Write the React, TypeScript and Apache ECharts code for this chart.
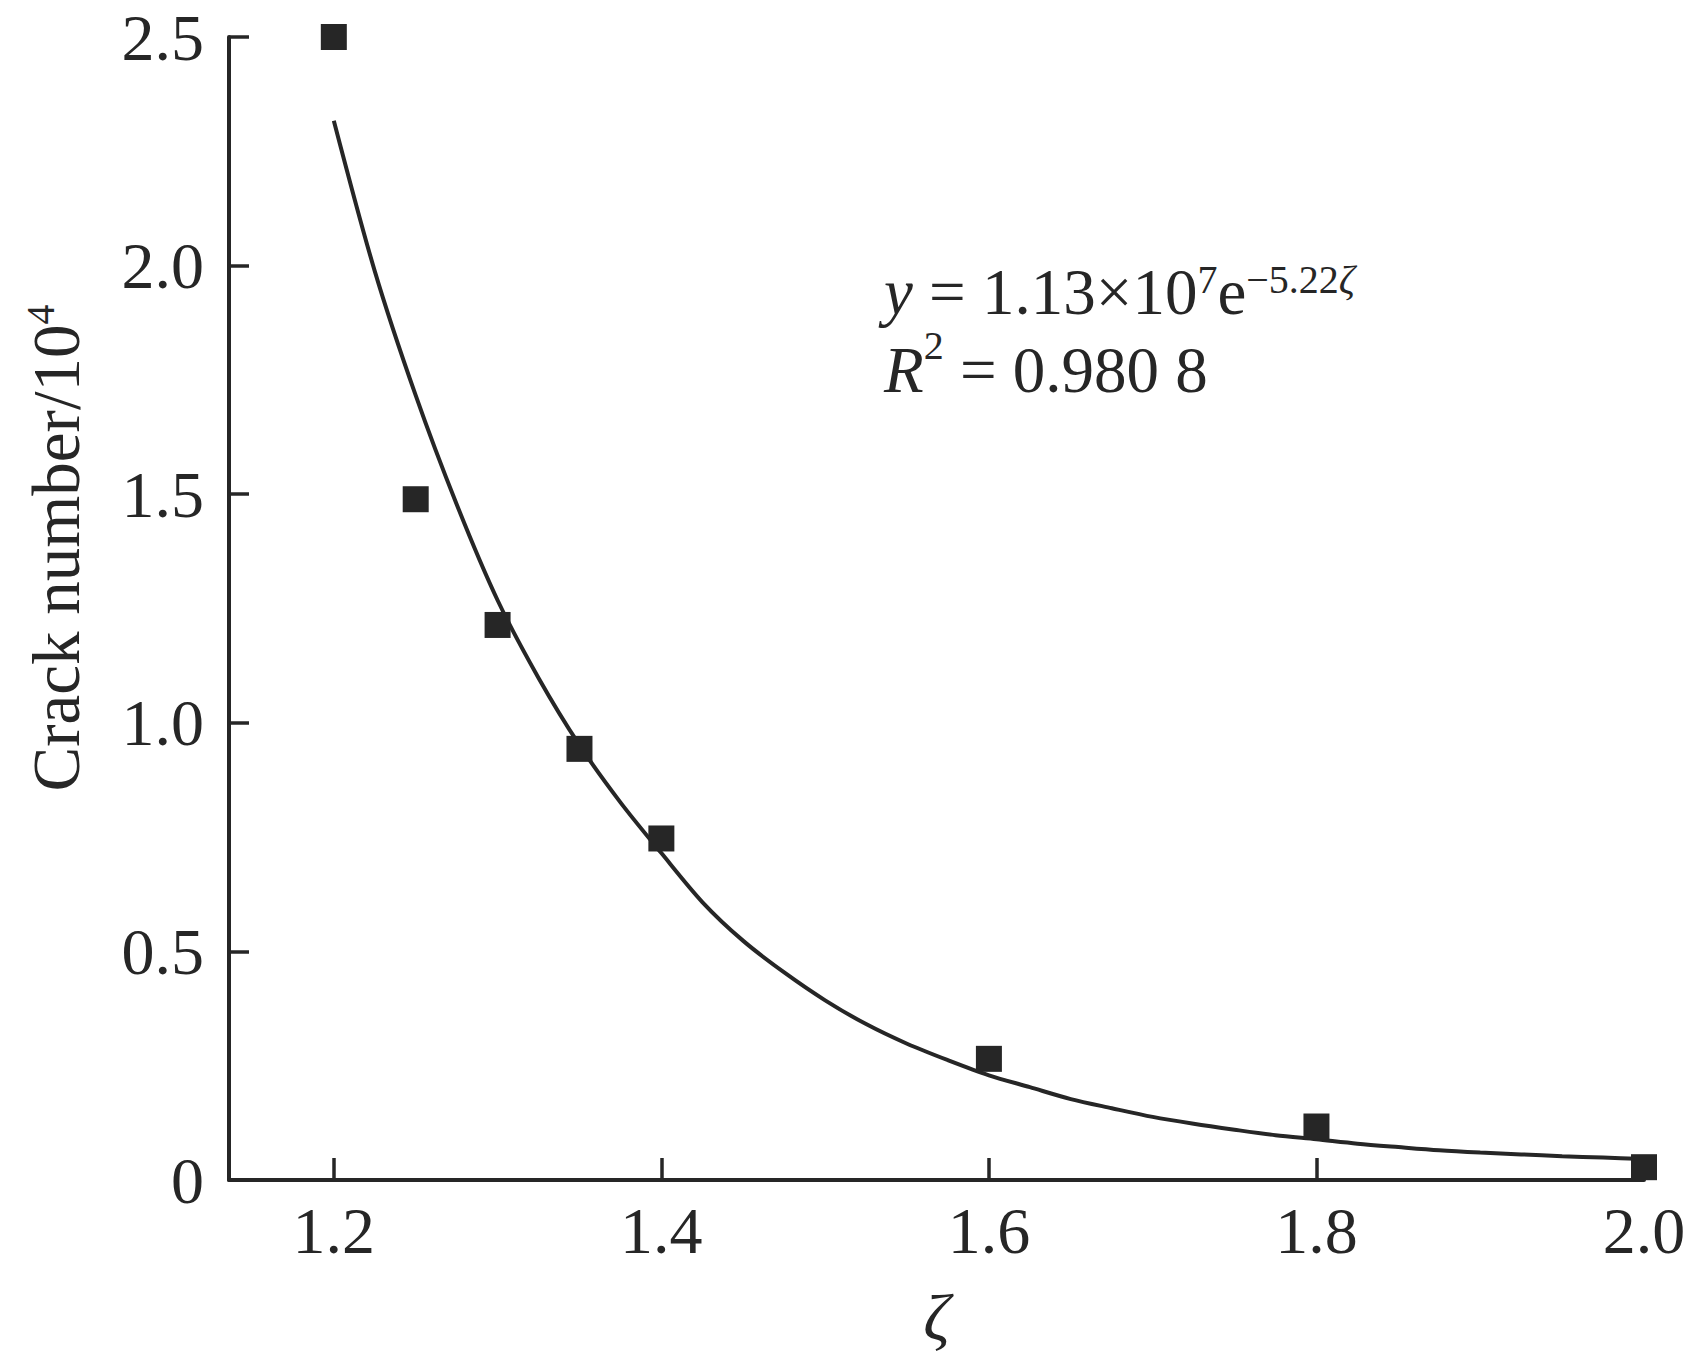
import React, { useEffect, useRef } from "react";
import * as echarts from "echarts";

// Measured data points (ζ, crack number / 10^4)
const zeta = [1.2, 1.25, 1.3, 1.35, 1.4, 1.6, 1.8, 2.0];
const crack = [2.5, 1.489, 1.214, 0.943, 0.747, 0.265, 0.117, 0.028];

// Fitted curve at regular ζ steps
const fitZeta = [1.2, 1.225, 1.25, 1.275, 1.3, 1.325, 1.35, 1.375, 1.4, 1.425, 1.45, 1.475, 1.5, 1.525, 1.55, 1.575, 1.6, 1.625, 1.65, 1.675, 1.7, 1.725, 1.75, 1.775, 1.8, 1.825, 1.85, 1.875, 1.9, 1.925, 1.95, 1.975, 2.0];
const fitCrack = [2.317, 1.988, 1.716, 1.478, 1.268, 1.098, 0.951, 0.826, 0.715, 0.608, 0.523, 0.454, 0.393, 0.341, 0.298, 0.262, 0.229, 0.203, 0.177, 0.157, 0.138, 0.123, 0.11, 0.098, 0.089, 0.0795, 0.072, 0.065, 0.06, 0.056, 0.052, 0.049, 0.046];

const xTicks = [1.2, 1.4, 1.6, 1.8, 2.0];
const yTicks = [0, 0.5, 1.0, 1.5, 2.0, 2.5];

const INK = "#262626";
const FONT = "'Liberation Serif', 'Times New Roman', serif";

export default function App() {
  const ref = useRef<HTMLDivElement>(null);
  useEffect(() => {
    if (!ref.current) return;
    const chart = echarts.init(ref.current, null, { renderer: "svg" });
    chart.setOption({
      animation: false,
      backgroundColor: "#ffffff",
      textStyle: { fontFamily: FONT },
      grid: { left: 229, right: 43, top: 37, bottom: 185, outerBoundsMode: "none", containLabel: false },
      xAxis: {
        type: "value",
        min: 1.136,
        max: 2.0,
        name: "ζ",
        nameLocation: "middle",
        nameGap: 104,
        nameTextStyle: { fontFamily: FONT, fontSize: 66, fontStyle: "italic", color: INK },
        axisLine: { onZero: false, lineStyle: { color: INK, width: 4 } },
        axisTick: { inside: true, length: 22, customValues: xTicks, lineStyle: { color: INK, width: 3.5 } },
        axisLabel: {
          customValues: xTicks,
          margin: 17,
          fontFamily: FONT,
          fontSize: 66,
          color: INK,
          formatter: (v: number) => v.toFixed(1),
        },
        splitLine: { show: false },
      },
      yAxis: {
        type: "value",
        min: 0,
        max: 2.5,
        interval: 0.5,
        axisLine: { show: true, onZero: false, lineStyle: { color: INK, width: 4 } },
        axisTick: { show: true, inside: true, length: 20, customValues: yTicks, lineStyle: { color: INK, width: 3.5 } },
        axisLabel: {
          customValues: yTicks,
          margin: 25,
          fontFamily: FONT,
          fontSize: 66,
          color: INK,
          formatter: (v: number) => (v === 0 ? "0" : v.toFixed(1)),
        },
        splitLine: { show: false },
      },
      series: [
        {
          type: "line",
          data: fitZeta.map((x, i) => [x, fitCrack[i]]),
          showSymbol: false,
          smooth: 0.3,
          lineStyle: { color: INK, width: 4 },
          z: 2,
        },
        {
          type: "scatter",
          data: zeta.map((x, i) => [x, crack[i]]),
          symbol: "rect",
          symbolSize: 26,
          itemStyle: { color: INK, opacity: 1 },
          z: 3,
        },
      ],
      graphic: [
        {
          type: "text",
          x: 56,
          y: 548,
          rotation: Math.PI / 2,
          style: {
            text: "{m|Crack number/10}{s|4}",
            align: "center",
            verticalAlign: "middle",
            fill: INK,
            fontFamily: FONT,
            rich: {
              m: { fontFamily: FONT, fontSize: 67, lineHeight: 72, fill: INK },
              s: { fontFamily: FONT, fontSize: 40, lineHeight: 42, verticalAlign: "top", fill: INK },
            },
          },
        },
        {
          type: "text",
          x: 884,
          y: 292,
          style: {
            text: "{i|y}{m| = 1.13×10}{s|7}{m|e}{s|−5.22}{si|ζ}",
            align: "left",
            verticalAlign: "middle",
            fill: INK,
            fontFamily: FONT,
            rich: {
              i: { fontFamily: FONT, fontSize: 65, fontStyle: "italic", lineHeight: 66, fill: INK },
              m: { fontFamily: FONT, fontSize: 65, lineHeight: 66, fill: INK },
              s: { fontFamily: FONT, fontSize: 40, lineHeight: 36, verticalAlign: "top", fill: INK },
              si: { fontFamily: FONT, fontSize: 40, fontStyle: "italic", lineHeight: 36, verticalAlign: "top", fill: INK },
            },
          },
        },
        {
          type: "text",
          x: 884,
          y: 370,
          style: {
            text: "{i|R}{s|2}{m| = 0.980 8}",
            align: "left",
            verticalAlign: "middle",
            fill: INK,
            fontFamily: FONT,
            rich: {
              i: { fontFamily: FONT, fontSize: 65, fontStyle: "italic", lineHeight: 90, fill: INK },
              m: { fontFamily: FONT, fontSize: 65, lineHeight: 90, fill: INK },
              s: { fontFamily: FONT, fontSize: 40, lineHeight: 36, verticalAlign: "top", fill: INK },
            },
          },
        },
      ],
    });
    return () => chart.dispose();
  }, []);
  return (
    <div
      ref={ref}
      style={{ position: "fixed", left: 0, top: 0, width: 1687, height: 1365, background: "#fff" }}
    />
  );
}
